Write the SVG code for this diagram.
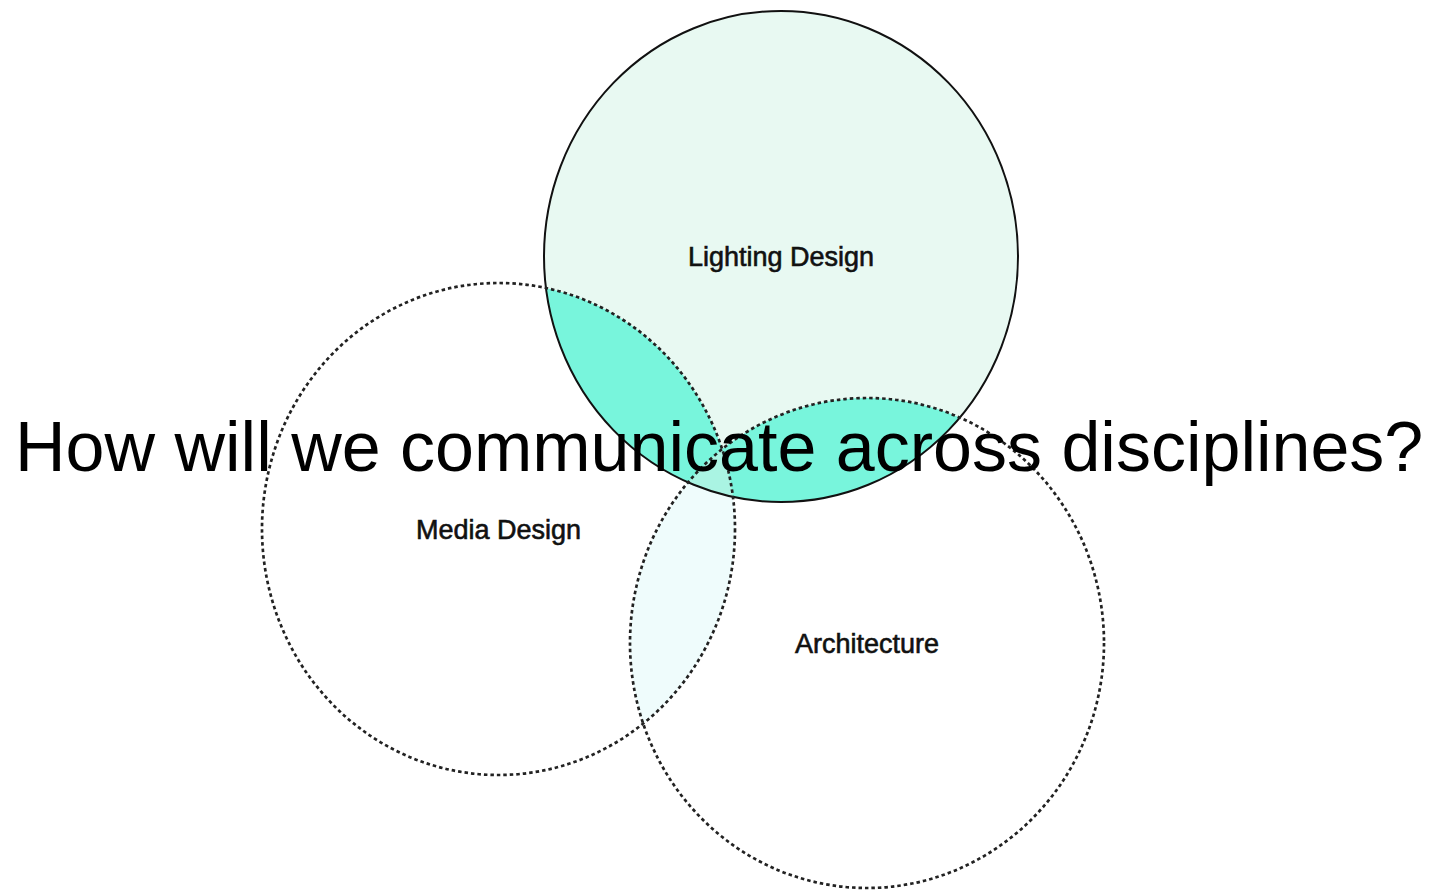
<svg xmlns="http://www.w3.org/2000/svg" width="1438" height="891" viewBox="0 0 1438 891">
<style>
.lbl{font-family:"Liberation Sans",Arial,Helvetica,sans-serif;font-size:27px;fill:#111;stroke:#111;stroke-width:0.6;text-anchor:middle}
.title{font-family:"Liberation Sans",Arial,Helvetica,sans-serif;font-size:70px;fill:#000}
.dash{fill:none;stroke:#222;stroke-width:2.7;stroke-dasharray:3.5 3}
.solid{fill:none;stroke:#111;stroke-width:2}
</style>
<defs>
<ellipse id="eL" cx="781" cy="256.5" rx="237" ry="245.5"/>
<ellipse id="eM" cx="498.5" cy="529" rx="236.5" ry="246"/>
<ellipse id="eA" cx="867" cy="643" rx="237" ry="245"/>
<clipPath id="cL"><use href="#eL"/></clipPath>
<clipPath id="cM"><use href="#eM"/></clipPath>
<clipPath id="cA"><use href="#eA"/></clipPath>
</defs>
<rect width="1438" height="891" fill="#fff"/>
<g id="fills">
<use href="#eL" fill="#e8f9f2"/>
<g clip-path="url(#cM)"><use href="#eA" fill="#effcfc"/></g>
<g clip-path="url(#cL)"><use href="#eM" fill="#78f5dc"/><use href="#eA" fill="#78f5dc"/></g>
<g clip-path="url(#cL)"><g clip-path="url(#cM)"><use href="#eA" fill="#aaf4e3"/></g></g>
</g>
<g id="lighting-design">
<use href="#eL" class="solid"/>
<text class="lbl" x="781" y="266">Lighting Design</text>
</g>
<g id="media-design">
<use href="#eM" class="dash"/>
<text class="lbl" x="498.5" y="539">Media Design</text>
</g>
<g id="architecture">
<use href="#eA" class="dash"/>
<text class="lbl" x="867" y="653">Architecture</text>
</g>
<g id="connectors"></g>
<text class="title" x="15" y="471">How will we communicate across disciplines?</text>
</svg>
